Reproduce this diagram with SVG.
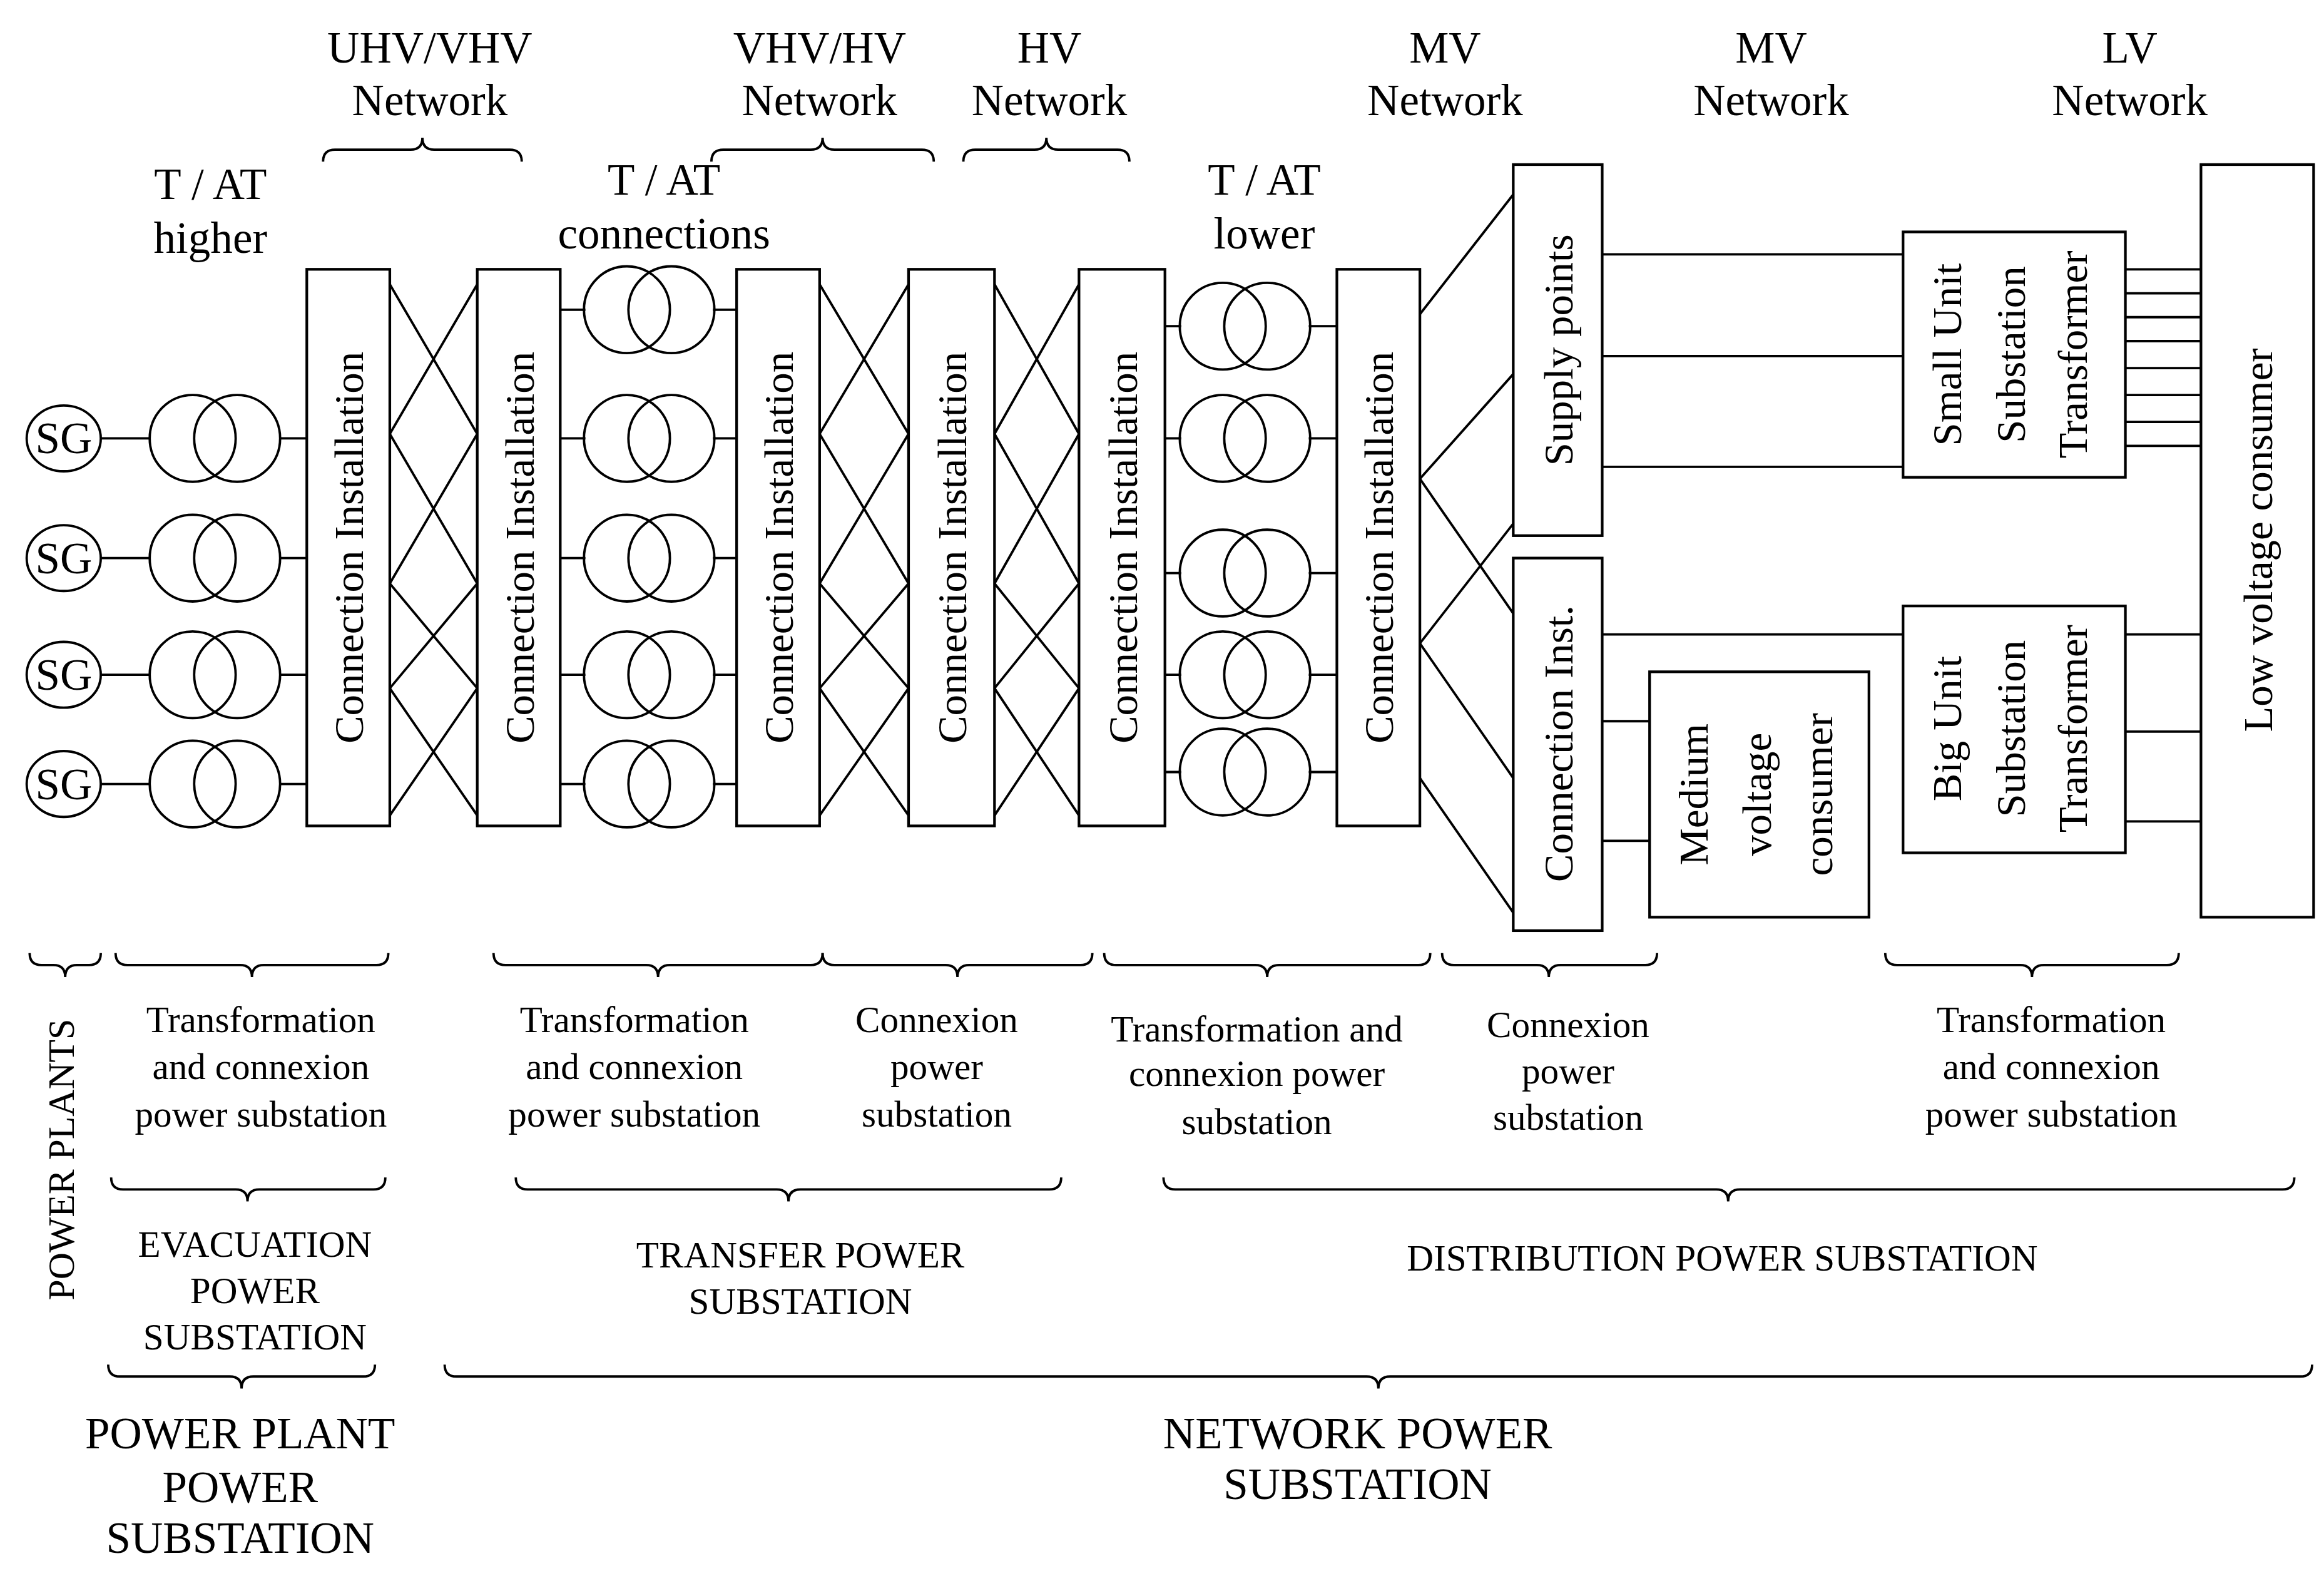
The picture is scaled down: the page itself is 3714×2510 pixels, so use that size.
<svg xmlns="http://www.w3.org/2000/svg" width="3714" height="2510" viewBox="0 0 3714 2510">
<style>
.l{stroke:#000;stroke-width:1.6;fill:none}
.b{stroke:#000;stroke-width:1.8;fill:#fff}
text{font-family:"Liberation Serif","Times New Roman","DejaVu Serif",serif;fill:#000;text-anchor:middle}
.h{font-size:30px}
.m{font-size:25px}
.bx{font-size:28px}
</style>
<defs>
<g id="tr"><circle cx="-15" cy="0" r="29" class="l"/><circle cx="15" cy="0" r="29" class="l"/></g>
</defs>
<rect width="3714" height="2510" fill="#fff"/>
<g transform="scale(2.3686,2.3905)" font-family="Liberation Serif, serif">
<g id="connectors" class="l">
<path d="M68,293H101M68,373H101M68,451H101M68,524H101M189,293H207M189,373H207M189,451H207M189,524H207"/>
<path d="M378,207H395M378,293H395M378,373H395M378,451H395M378,524H395M481,207H497M481,293H497M481,373H497M481,451H497M481,524H497"/>
<path d="M786,218H797M786,293H797M786,383H797M786,451H797M786,516H797M883,218H902M883,293H902M883,383H902M883,451H902M883,516H902"/>
<path d="M263,190L322,290M263,290L322,190M263,290L322,390M263,390L322,290M263,390L322,460M263,460L322,390M263,460L322,545M263,545L322,460"/>
<path d="M553,190L613,290M553,290L613,190M553,290L613,390M553,390L613,290M553,390L613,460M553,460L613,390M553,460L613,545M553,545L613,460"/>
<path d="M671,190L728,290M671,290L728,190M671,290L728,390M671,390L728,290M671,390L728,460M671,460L728,390M671,460L728,545M671,545L728,460"/>
<path d="M958,210L1021,130M958,320L1021,250M958,320L1021,410M958,430L1021,350M958,430L1021,520M958,520L1021,610"/>
<path d="M1081,170H1284M1081,238H1284M1081,312H1284M1081,424H1284M1081,482H1113M1081,562H1113"/>
<path d="M1434,180H1485M1434,196H1485M1434,212H1485M1434,228H1485M1434,246H1485M1434,264H1485M1434,282H1485M1434,298H1485M1434,424H1485M1434,489H1485M1434,549H1485"/>
</g>
<g id="sg"><g class="l"><ellipse cx="43" cy="293" rx="25" ry="22"/><ellipse cx="43" cy="373" rx="25" ry="22"/><ellipse cx="43" cy="451" rx="25" ry="22"/><ellipse cx="43" cy="524" rx="25" ry="22"/></g>
<text class="h" x="43" y="303">SG</text><text class="h" x="43" y="383">SG</text><text class="h" x="43" y="461">SG</text><text class="h" x="43" y="534">SG</text></g>
<g id="transformers">
<use href="#tr" x="145" y="293"/><use href="#tr" x="145" y="373"/><use href="#tr" x="145" y="451"/><use href="#tr" x="145" y="524"/>
<use href="#tr" x="438" y="207"/><use href="#tr" x="438" y="293"/><use href="#tr" x="438" y="373"/><use href="#tr" x="438" y="451"/><use href="#tr" x="438" y="524"/>
<use href="#tr" x="840" y="218"/><use href="#tr" x="840" y="293"/><use href="#tr" x="840" y="383"/><use href="#tr" x="840" y="451"/><use href="#tr" x="840" y="516"/>
</g>
<g id="ci1"><rect class="b" x="207" y="180" width="56" height="372"/><text class="bx" transform="translate(245,366) rotate(-90)">Connection Installation</text></g>
<g id="ci2"><rect class="b" x="322" y="180" width="56" height="372"/><text class="bx" transform="translate(360,366) rotate(-90)">Connection Installation</text></g>
<g id="ci3"><rect class="b" x="497" y="180" width="56" height="372"/><text class="bx" transform="translate(535,366) rotate(-90)">Connection Installation</text></g>
<g id="ci4"><rect class="b" x="613" y="180" width="58" height="372"/><text class="bx" transform="translate(652,366) rotate(-90)">Connection Installation</text></g>
<g id="ci5"><rect class="b" x="728" y="180" width="58" height="372"/><text class="bx" transform="translate(767,366) rotate(-90)">Connection Installation</text></g>
<g id="ci6"><rect class="b" x="902" y="180" width="56" height="372"/><text class="bx" transform="translate(940,366) rotate(-90)">Connection Installation</text></g>
<g id="supply"><rect class="b" x="1021" y="110" width="60" height="248"/><text class="bx" transform="translate(1061,234) rotate(-90)">Supply points</text></g>
<g id="cinst"><rect class="b" x="1021" y="373" width="60" height="249"/><text class="bx" transform="translate(1061,497) rotate(-90)">Connection Inst.</text></g>
<g id="mvc"><rect class="b" x="1113" y="449" width="148" height="164"/><text class="bx" transform="translate(1152,531) rotate(-90)">Medium</text><text class="bx" transform="translate(1195,531) rotate(-90)">voltage</text><text class="bx" transform="translate(1236,531) rotate(-90)">consumer</text></g>
<g id="small"><rect class="b" x="1284" y="155" width="150" height="164"/><text class="bx" transform="translate(1323,237) rotate(-90)">Small Unit</text><text class="bx" transform="translate(1366,237) rotate(-90)">Substation</text><text class="bx" transform="translate(1408,237) rotate(-90)">Transformer</text></g>
<g id="big"><rect class="b" x="1284" y="405" width="150" height="165"/><text class="bx" transform="translate(1323,487) rotate(-90)">Big Unit</text><text class="bx" transform="translate(1366,487) rotate(-90)">Substation</text><text class="bx" transform="translate(1408,487) rotate(-90)">Transformer</text></g>
<g id="lvc"><rect class="b" x="1485" y="110" width="76" height="503"/><text class="bx" transform="translate(1533,361) rotate(-90)">Low voltage consumer</text></g>
<g id="headers" class="h">
<text class="h" x="290" y="42">UHV/VHV</text><text class="h" x="290" y="77">Network</text>
<text class="h" x="553" y="42">VHV/HV</text><text class="h" x="553" y="77">Network</text>
<text class="h" x="708" y="42">HV</text><text class="h" x="708" y="77">Network</text>
<text class="h" x="975" y="42">MV</text><text class="h" x="975" y="77">Network</text>
<text class="h" x="1195" y="42">MV</text><text class="h" x="1195" y="77">Network</text>
<text class="h" x="1437" y="42">LV</text><text class="h" x="1437" y="77">Network</text>
<text class="h" x="142" y="133">T / AT</text><text class="h" x="142" y="169">higher</text>
<text class="h" x="448" y="130">T / AT</text><text class="h" x="448" y="166">connections</text>
<text class="h" x="853" y="130">T / AT</text><text class="h" x="853" y="166">lower</text>
</g>
<g id="braces" class="l">
<path d="M218,108Q218,100 226,100H277Q285,100 285,92Q285,100 293,100H344Q352,100 352,108"/>
<path d="M480,108Q480,100 488,100H547Q555,100 555,92Q555,100 563,100H622Q630,100 630,108"/>
<path d="M650,108Q650,100 658,100H698Q706,100 706,92Q706,100 714,100H754Q762,100 762,108"/>
<path d="M20,637Q20,645 28,645H36Q44,645 44,653Q44,645 52,645H60Q68,645 68,637"/>
<path d="M78,637Q78,645 86,645H162Q170,645 170,653Q170,645 178,645H254Q262,645 262,637"/>
<path d="M333,637Q333,645 341,645H436Q444,645 444,653Q444,645 452,645H547Q555,645 555,637"/>
<path d="M555,637Q555,645 563,645H638Q646,645 646,653Q646,645 654,645H729Q737,645 737,637"/>
<path d="M745,637Q745,645 753,645H847Q855,645 855,653Q855,645 863,645H957Q965,645 965,637"/>
<path d="M973,637Q973,645 981,645H1037Q1045,645 1045,653Q1045,645 1053,645H1110Q1118,645 1118,637"/>
<path d="M1272,637Q1272,645 1280,645H1363Q1371,645 1371,653Q1371,645 1379,645H1462Q1470,645 1470,637"/>
<path d="M75,787Q75,795 83,795H159Q167,795 167,803Q167,795 175,795H252Q260,795 260,787"/>
<path d="M348,787Q348,795 356,795H524Q532,795 532,803Q532,795 540,795H708Q716,795 716,787"/>
<path d="M785,787Q785,795 793,795H1158Q1166,795 1166,803Q1166,795 1174,795H1540Q1548,795 1548,787"/>
<path d="M73,912Q73,920 81,920H155Q163,920 163,928Q163,920 171,920H245Q253,920 253,912"/>
<path d="M300,912Q300,920 308,920H922Q930,920 930,928Q930,920 938,920H1552Q1560,920 1560,912"/>
</g>
<g id="labels">
<text class="m" x="176" y="690">Transformation</text><text class="m" x="176" y="721">and connexion</text><text class="m" x="176" y="753">power substation</text>
<text class="m" x="428" y="690">Transformation</text><text class="m" x="428" y="721">and connexion</text><text class="m" x="428" y="753">power substation</text>
<text class="m" x="632" y="690">Connexion</text><text class="m" x="632" y="721">power</text><text class="m" x="632" y="753">substation</text>
<text class="m" x="848" y="696">Transformation and</text><text class="m" x="848" y="726">connexion power</text><text class="m" x="848" y="758">substation</text>
<text class="m" x="1058" y="693">Connexion</text><text class="m" x="1058" y="724">power</text><text class="m" x="1058" y="755">substation</text>
<text class="m" x="1384" y="690">Transformation</text><text class="m" x="1384" y="721">and connexion</text><text class="m" x="1384" y="753">power substation</text>
<text class="m" x="172" y="840">EVACUATION</text><text class="m" x="172" y="871">POWER</text><text class="m" x="172" y="902">SUBSTATION</text>
<text class="m" x="540" y="847">TRANSFER POWER</text><text class="m" x="540" y="878">SUBSTATION</text>
<text class="m" x="1162" y="849">DISTRIBUTION POWER SUBSTATION</text>
<text class="m" transform="translate(50,775) rotate(-90)">POWER PLANTS</text>
</g>
<g id="bottom">
<text class="h" x="162" y="968">POWER PLANT</text><text class="h" x="162" y="1004">POWER</text><text class="h" x="162" y="1038">SUBSTATION</text>
<text class="h" x="916" y="968">NETWORK POWER</text><text class="h" x="916" y="1002">SUBSTATION</text>
</g>
</g>
</svg>
